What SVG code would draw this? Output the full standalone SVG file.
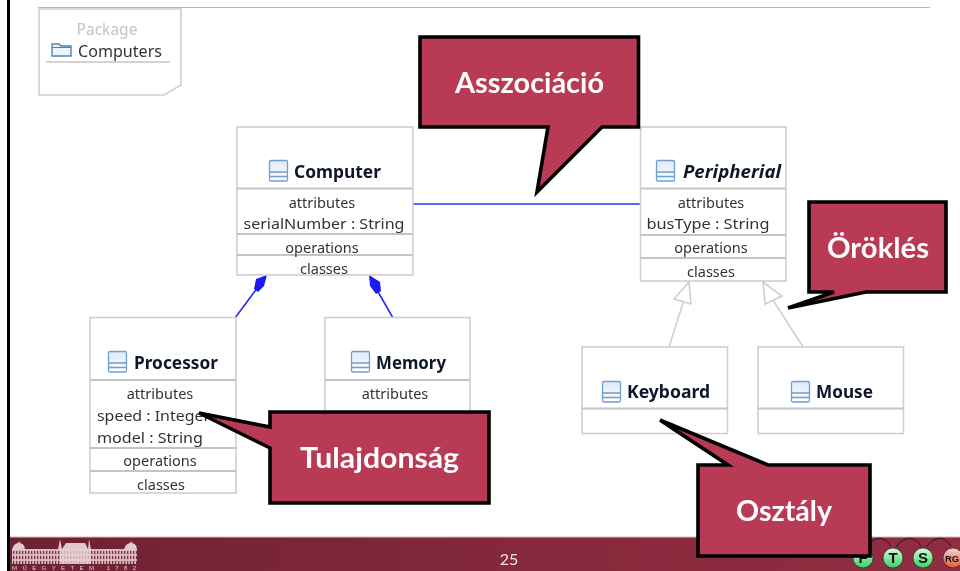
<svg xmlns="http://www.w3.org/2000/svg" width="960" height="571" viewBox="0 0 960 571">
<style>
.box{fill:#fff;stroke:#cfcfcf;stroke-width:1.6}
.div{fill:none;stroke:#c4c4c4;stroke-width:1.8}
.t{font-family:"Noto Sans","Open Sans",sans-serif;font-size:14.5px;fill:#333;text-anchor:middle}
.s{text-anchor:start}
.n{font-family:"Noto Sans","Open Sans",sans-serif;font-size:17px;font-weight:700;fill:#10182a}
.call{fill:#b83a54;stroke:#000;stroke-width:3.6;stroke-linejoin:miter}
.cl{font-family:Lato,"Liberation Sans",sans-serif;font-size:29px;font-weight:700;fill:#fff;text-anchor:middle}
.blue{stroke:#2b2bf0;stroke-width:1.6;fill:none}
.gen{stroke:#cfcfcf;stroke-width:1.6;fill:#fff}
.badge{stroke:#1c1c1c;stroke-width:.6}
.bt{font-family:"Liberation Sans",sans-serif;font-size:15px;font-weight:700;fill:#111;text-anchor:middle}
.arc{fill:none;stroke:#2a1015;stroke-width:1}
</style>
<defs>
<linearGradient id="foot" x1="0" x2="1" y1="0" y2="0">
<stop offset="0" stop-color="#6d2233"/><stop offset=".6" stop-color="#87293c"/><stop offset="1" stop-color="#912d42"/>
</linearGradient>
<linearGradient id="gr" x1="0" x2="0" y1="0" y2="1"><stop offset="0" stop-color="#d8fbe0"/><stop offset="1" stop-color="#2fd35c"/></linearGradient>
<linearGradient id="rd" x1="0" x2="0" y1="0" y2="1"><stop offset="0" stop-color="#f9d5c8"/><stop offset="1" stop-color="#e0583c"/></linearGradient>
<linearGradient id="ic" x1="0" x2="0" y1="0" y2="1"><stop offset="0" stop-color="#dfe8f5"/><stop offset="1" stop-color="#fff"/></linearGradient>
<pattern id="win" width="3" height="5" patternUnits="userSpaceOnUse"><rect width="3" height="5" fill="#d9b9bf"/><rect x="1" y="1" width="1.3" height="3" fill="#7a3040"/></pattern>
<g id="cicon">
<rect x=".5" y=".5" width="18" height="20.5" rx="1.500" fill="url(#ic)" stroke="#6f9fcf" stroke-width="1.3"/>
<path d="M.5 12h18M.5 16.500h18" stroke="#6f9fcf" stroke-width="1.3" fill="none"/>
</g>
<filter id="soft" x="-5%" y="-5%" width="110%" height="110%"><feGaussianBlur stdDeviation=".45"/></filter>
<filter id="softer" x="-5%" y="-5%" width="110%" height="110%"><feGaussianBlur stdDeviation=".3"/></filter>
</defs>
<rect width="960" height="571" fill="#fff"/>
<path d="M8.500 0V571" stroke="#000" stroke-width="3"/>
<path d="M38 7.500H930" stroke="#9fbbd8" stroke-width="1.2"/>

<g filter="url(#soft)">
<g id="package">
<path class="box" d="M39 9H181V85L164 95H39Z"/>
<text x="107" y="35" font-family="Noto Sans,sans-serif" font-size="15.500" fill="#c4c4c4" text-anchor="middle">Package</text>
<path d="M52 56V44H59L61 46H71V56Z" fill="#eef4fa" stroke="#4a86b8" stroke-width="1.4"/>
<path d="M52 47.500H71" stroke="#4a86b8" stroke-width="1"/>
<text x="78" y="57" font-family="Noto Sans,sans-serif" font-size="16" fill="#333" textLength="84" lengthAdjust="spacingAndGlyphs">Computers</text>
<path d="M46 62H170" stroke="#c4c4c4" stroke-width="1.4"/>
</g>
<g id="connectors">
<path class="blue" d="M413 204H640"/>
<path class="blue" d="M235 318L258 287"/>
<path d="M267 275L256 279L254 289L258 292L264 286Z" fill="#1a1af0"/>
<path class="blue" d="M393 318L377 290"/>
<path d="M369 275L380 282L381 291L376 294L370 286Z" fill="#1a1af0"/>
<path class="gen" d="M669 347L683 303"/>
<path class="gen" d="M689 282L674 299L691 304Z"/>
<path class="gen" d="M803 347L773 300"/>
<path class="gen" d="M763 282L765 304L782 296Z"/>
</g>
<g id="computer">
<rect class="box" x="237" y="127" width="176" height="148"/>
<path class="div" d="M237 188.500H413M237 234H413M237 255H413"/>
<use href="#cicon" x="269" y="160"/>
<text class="n" x="294" y="178" textLength="87" lengthAdjust="spacingAndGlyphs">Computer</text>
<text class="t" x="322" y="208">attributes</text>
<text class="t" x="324" y="229" textLength="161" lengthAdjust="spacingAndGlyphs">serialNumber : String</text>
<text class="t" x="322" y="253">operations</text>
<text class="t" x="324" y="274">classes</text>
</g>
<g id="peripherial">
<rect class="box" x="640.500" y="127" width="145.500" height="154"/>
<path class="div" d="M640.500 188.500H786M640.500 235H786M640.500 258H786"/>
<use href="#cicon" x="656" y="160"/>
<text class="n" x="683" y="178" font-style="italic" textLength="98" lengthAdjust="spacingAndGlyphs">Peripherial</text>
<text class="t" x="711" y="208">attributes</text>
<text class="t" x="708" y="229" textLength="123" lengthAdjust="spacingAndGlyphs">busType : String</text>
<text class="t" x="711" y="253">operations</text>
<text class="t" x="711" y="277">classes</text>
</g>
<g id="processor">
<rect class="box" x="90" y="317.500" width="146" height="175.500"/>
<path class="div" d="M90 380H236M90 448H236M90 471H236"/>
<use href="#cicon" x="108" y="351"/>
<text class="n" x="134" y="369" textLength="84" lengthAdjust="spacingAndGlyphs">Processor</text>
<text class="t" x="160" y="399">attributes</text>
<text class="t s" x="97" y="421" textLength="113" lengthAdjust="spacingAndGlyphs">speed : Integer</text>
<text class="t s" x="97" y="443" textLength="106" lengthAdjust="spacingAndGlyphs">model : String</text>
<text class="t" x="160" y="466">operations</text>
<text class="t" x="161" y="490">classes</text>
</g>
<g id="memory">
<rect class="box" x="325" y="317.500" width="145" height="175.500"/>
<path class="div" d="M325 380H470"/>
<use href="#cicon" x="351" y="351"/>
<text class="n" x="376" y="369" textLength="70" lengthAdjust="spacingAndGlyphs">Memory</text>
<text class="t" x="395" y="399">attributes</text>
</g>
<g id="keyboard">
<rect class="box" x="582" y="347" width="145.500" height="86.500"/>
<path class="div" d="M582 408.500H727.500"/>
<use href="#cicon" x="602" y="381"/>
<text class="n" x="627" y="398" textLength="83" lengthAdjust="spacingAndGlyphs">Keyboard</text>
</g>
<g id="mouse">
<rect class="box" x="758" y="347" width="145.500" height="86.500"/>
<path class="div" d="M758 408.500H903.500"/>
<use href="#cicon" x="791" y="381"/>
<text class="n" x="816" y="398" textLength="57" lengthAdjust="spacingAndGlyphs">Mouse</text>
</g>
</g>

<g id="footer">
<rect x="10" y="537" width="950" height="34" fill="url(#foot)"/>
<path d="M10 537H960" stroke="#d9b9bf" stroke-width="1"/>
<g id="logo" filter="url(#soft)">
<rect x="12" y="549" width="125" height="15" fill="url(#win)"/>
<path d="M12 550Q13 544 18 543L19 541L20 543Q25 544 25 550ZM124 550Q125 544 130 543L131 541L132 543Q137 544 137 550ZM58 550L60 539L62 550ZM88 550L89 539L91 550ZM62 549L66 543H85L88 549Z" fill="#e3c9cd"/>
<rect x="60" y="549" width="31" height="15" fill="#e9d4d7" opacity=".75"/>
<text x="74" y="570" font-family="Liberation Sans,sans-serif" font-size="6" fill="#e3c9cd" text-anchor="middle" textLength="124">MŰEGYETEM 1782</text>
</g>
<text x="509" y="565" font-family="Lato,sans-serif" font-size="16" fill="#f4e6e8" text-anchor="middle">25</text>
<g id="badges">
<path class="arc" d="M866 547Q880 530 891 546M896 547Q910 530 921 546M926 547Q940 530 951 546"/>
<circle class="badge" cx="863" cy="558" r="10" fill="url(#gr)"/>
<text class="bt" x="863" y="563">F</text>
<circle class="badge" cx="893" cy="558" r="10" fill="url(#gr)"/>
<text class="bt" x="893" y="563">T</text>
<circle class="badge" cx="923" cy="558" r="10" fill="url(#gr)"/>
<text class="bt" x="923" y="563">S</text>
<circle class="badge" cx="953" cy="558" r="10" fill="url(#rd)"/>
<text class="bt" x="952" y="562" style="font-size:9.500px">RG</text>
</g>
</g>

<g id="callout-asszociacio">
<path class="call" d="M420 37H638.500V127H602L537 192L548 127H420Z"/>
<text class="cl" x="529.500" y="93" textLength="149" lengthAdjust="spacingAndGlyphs" filter="url(#softer)">Asszociáció</text>
</g>
<g id="callout-oroklés">
<path class="call" d="M809 202H946V292H866L788 308L834 292H809Z"/>
<text class="cl" x="878" y="258" textLength="102" lengthAdjust="spacingAndGlyphs" filter="url(#softer)">Öröklés</text>
</g>
<g id="callout-tulajdonsag">
<path class="call" d="M270 412H489V503H270V448L199 413L270 427Z"/>
<text class="cl" x="379.500" y="468" textLength="159" lengthAdjust="spacingAndGlyphs" filter="url(#softer)">Tulajdonság</text>
</g>
<g id="callout-osztaly">
<path class="call" d="M698 465H728L660 420L768 465H870V556H698Z"/>
<text class="cl" x="784" y="521" textLength="96" lengthAdjust="spacingAndGlyphs" filter="url(#softer)">Osztály</text>
</g>
</svg>
